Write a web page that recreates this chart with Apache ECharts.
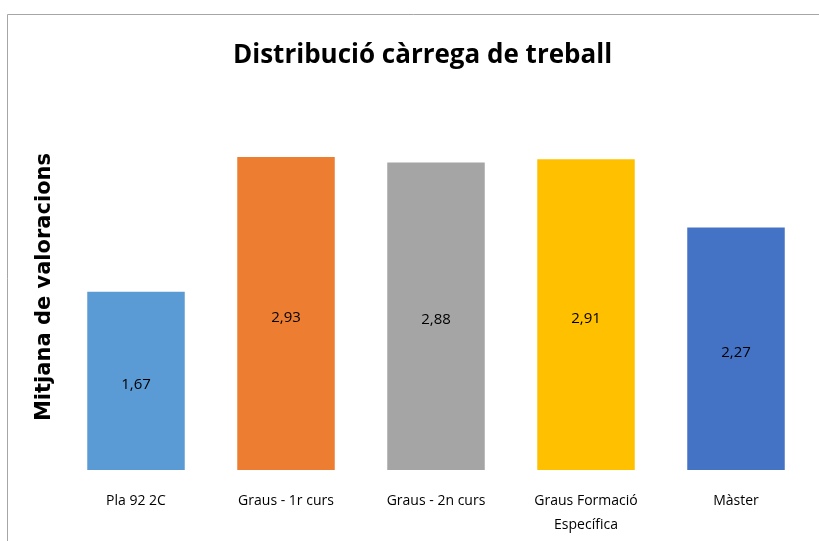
<!DOCTYPE html>
<html>
<head>
<meta charset="utf-8">
<script src="https://cdn.jsdelivr.net/npm/echarts@6/dist/echarts.min.js"></script>
<style>
html, body { margin: 0; padding: 0; background: #fff; }
#chart { width: 819px; height: 541px; }
</style>
</head>
<body>
<div id="chart"></div>
<script>
var categories = ['Pla 92 2C', 'Graus - 1r curs', 'Graus - 2n curs', 'Graus Formació\nEspecífica', 'Màster'];
var values = [1.67, 2.93, 2.88, 2.91, 2.27];
var colors = ['#5B9BD5', '#ED7D31', '#A5A5A5', '#FFC000', '#4472C4'];
var yName = 'Mitjana de valoracions';

var fontName = '"Open Sans", sans-serif';

var myChart = echarts.init(document.getElementById('chart'));

var data = [];
for (var i = 0; i < values.length; i++) {
    data.push({ value: values[i], itemStyle: { color: colors[i] } });
}

var option = {
    backgroundColor: '#fff',
    animation: false,
    title: {
        text: 'Distribució càrrega de treball',
        left: 228,
        top: 38,
        textStyle: { fontFamily: fontName, fontSize: 26, fontWeight: 'bold', color: '#000' }
    },
    graphic: [{
        type: 'rect',
        shape: { x: 7.5, y: 14.5, width: 900, height: 700 },
        style: { fill: 'none', stroke: '#a6a6a6', lineWidth: 1 },
        silent: true
    }, {
        // nom de l'eix Y, girat
        type: 'text',
        x: 45,
        y: 287,
        rotation: Math.PI / 2,
        style: {
            text: yName,
            fontFamily: '"DejaVu Sans", sans-serif',
            fontSize: 21,
            fontWeight: 'bold',
            fill: '#000',
            textAlign: 'center',
            textVerticalAlign: 'middle'
        },
        silent: true
    }],
    grid: { left: 61, right: 8, top: 149.6, bottom: 71 },
    xAxis: {
        type: 'category',
        data: categories,
        axisLine: { show: false },
        axisTick: { show: false },
        axisLabel: {
            margin: 19,
            fontFamily: fontName,
            fontSize: 14,
            color: '#000',
            lineHeight: 24
        }
    },
    yAxis: {
        type: 'value',
        min: 0,
        max: 3,
        axisLine: { show: false },
        axisTick: { show: false },
        axisLabel: { show: false },
        splitLine: { show: false }
    },
    series: [{
        type: 'bar',
        data: data,
        barWidth: '65%',
        label: {
            show: true,
            position: 'inside',
            offset: [0, 4],
            fontFamily: fontName,
            fontSize: 15,
            color: '#000',
            formatter: function (p) { return p.value.toFixed(2).replace('.', ','); }
        }
    }]
};

myChart.setOption(option);
</script>
</body>
</html>
